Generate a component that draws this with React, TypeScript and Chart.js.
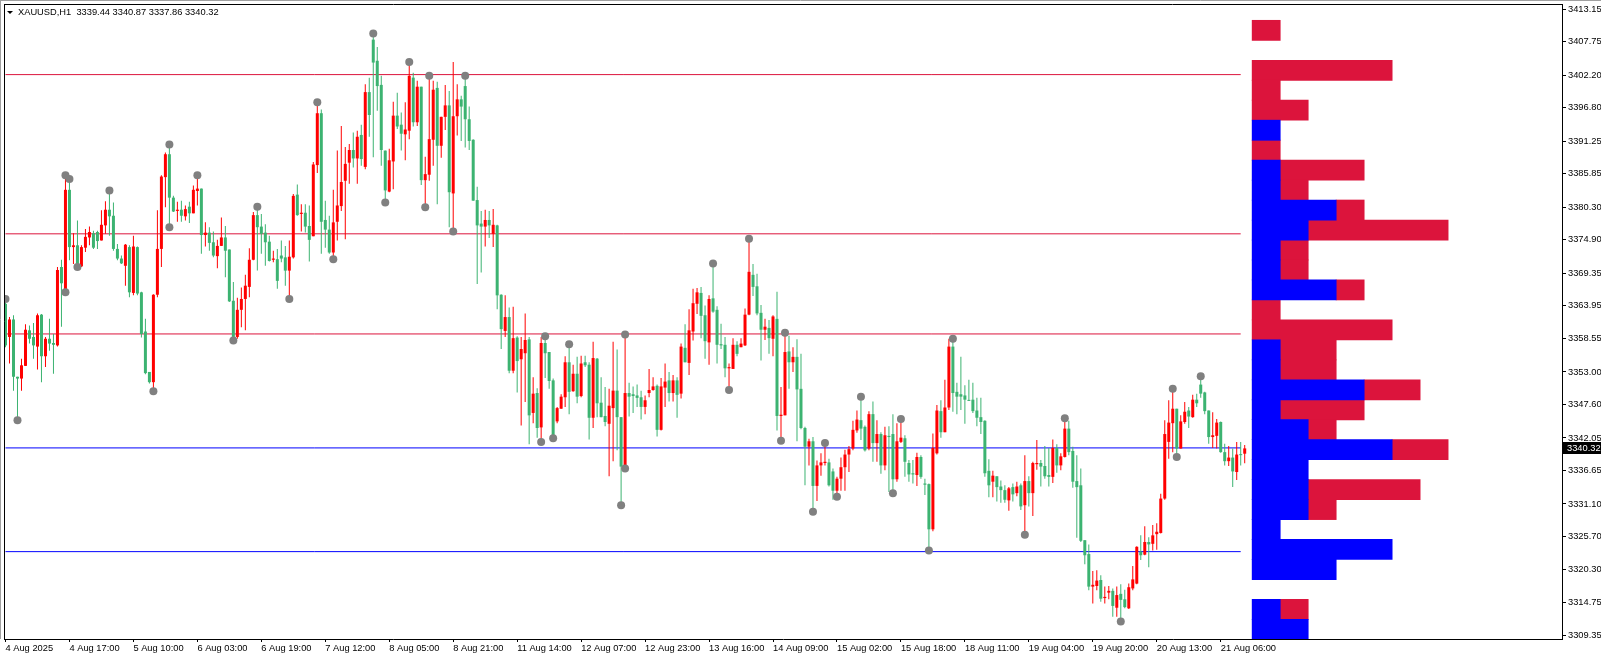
import React, { useEffect, useRef } from "react";
import { Chart, registerables } from "chart.js";

Chart.register(...registerables);

// ---------- header ----------
const headerText = "XAUUSD,H1  3339.44 3340.87 3337.86 3340.32";
const lastPrice = 3340.32;

// ---------- candles (H1, one per bar index 1..311) ----------
const opens = [
  3364.3, 3358.8, 3361.7, 3352.2, 3351.9, 3354.0, 3359.9, 3358.8, 3357.2, 3362.5,
  3355.6, 3358.5, 3357.8, 3357.4, 3370.4, 3366.5, 3383.2, 3373.7, 3374.0, 3370.5,
  3373.6, 3375.3, 3376.0, 3376.2, 3374.8, 3377.3, 3379.9, 3378.9, 3373.4, 3371.8,
  3370.6, 3373.7, 3366.1, 3373.7, 3366.2, 3359.7, 3353.0, 3351.3, 3365.8, 3373.4,
  3385.3, 3389.1, 3381.9, 3379.7, 3379.9, 3378.8, 3380.4, 3379.3, 3383.0, 3383.4,
  3375.7, 3376.1, 3374.5, 3372.2, 3373.9, 3375.3, 3373.3, 3364.8, 3358.8, 3363.3,
  3365.1, 3367.1, 3371.6, 3379.0, 3377.1, 3376.1, 3374.6, 3371.6, 3371.7, 3372.3,
  3372.0, 3369.8, 3372.0, 3382.4, 3379.2, 3379.4, 3377.2, 3375.5, 3387.3, 3395.9,
  3378.2, 3376.6, 3372.8, 3377.9, 3380.5, 3384.7, 3387.7, 3389.8, 3388.4, 3392.3,
  3387.0, 3399.4, 3408.1, 3404.6, 3400.6, 3389.7, 3382.9, 3387.9, 3395.5, 3394.0,
  3392.4, 3393.0, 3401.8, 3394.4, 3400.3, 3384.8, 3385.7, 3391.5, 3400.1, 3390.5,
  3395.3, 3397.2, 3382.6, 3395.4, 3398.2, 3400.4, 3394.9, 3391.5, 3381.5, 3377.6,
  3377.1, 3378.2, 3375.9, 3377.3, 3365.8, 3359.8, 3362.1, 3353.2, 3358.7, 3355.1,
  3356.1, 3358.4, 3346.2, 3349.5, 3343.8, 3357.8, 3356.3, 3351.6, 3344.8, 3346.9,
  3348.8, 3354.6, 3349.8, 3352.7, 3349.0, 3354.6, 3354.2, 3345.4, 3355.2, 3347.9,
  3345.7, 3344.4, 3347.0, 3349.9, 3345.5, 3337.3, 3349.5, 3349.3, 3349.1, 3348.8,
  3347.2, 3349.5, 3350.0, 3350.7, 3343.4, 3350.4, 3351.6, 3349.5, 3351.6, 3349.4,
  3357.0, 3354.5, 3359.7, 3364.3, 3366.1, 3362.4, 3357.9, 3365.2, 3363.3, 3357.6,
  3357.5, 3353.6, 3353.5, 3357.5, 3357.1, 3357.4, 3362.5, 3369.1, 3367.2, 3362.8,
  3360.0, 3360.3, 3358.5, 3361.8, 3345.7, 3345.8, 3356.4, 3354.6, 3355.5, 3350.2,
  3343.7, 3340.6, 3341.5, 3334.1, 3337.5, 3337.9, 3338.0, 3336.5, 3333.3, 3335.3,
  3337.2, 3339.3, 3340.3, 3343.3, 3345.0, 3343.9, 3340.3, 3346.0, 3341.2, 3342.7,
  3337.5, 3342.4, 3342.7, 3335.2, 3341.4, 3342.0, 3337.9, 3336.2, 3335.9, 3338.9,
  3334.5, 3334.4, 3326.9, 3339.5, 3346.5, 3343.0, 3347.1, 3357.2, 3349.7, 3349.3,
  3349.1, 3348.3, 3348.4, 3346.6, 3345.5, 3344.9, 3336.6, 3334.8, 3335.7, 3334.0,
  3333.4, 3331.7, 3333.9, 3332.9, 3334.2, 3330.9, 3334.9, 3332.9, 3337.7, 3337.9,
  3337.4, 3335.9, 3335.6, 3340.4, 3337.5, 3338.9, 3343.6, 3339.9, 3334.9, 3334.2,
  3325.1, 3322.8, 3317.4, 3317.5, 3318.5, 3315.5, 3316.4, 3316.7, 3313.9, 3316.2,
  3315.3, 3313.8, 3317.1, 3317.9, 3323.2, 3322.7, 3324.8, 3324.5, 3326.1, 3326.3,
  3332.0, 3341.4, 3344.5, 3346.9, 3340.3, 3344.7, 3346.6, 3345.5, 3348.4, 3350.9,
  3349.6, 3346.6, 3342.2, 3342.4, 3344.7, 3339.7, 3338.2, 3338.8, 3336.4, 3339.3,
  3339.44,
];

const highs = [
  3365.1, 3362.1, 3362.4, 3352.2, 3355.2, 3360.9, 3360.7, 3361.1, 3362.7, 3362.6,
  3358.8, 3361.8, 3359.3, 3370.4, 3371.6, 3385.6, 3385.0, 3376.0, 3378.1, 3374.0,
  3376.7, 3377.1, 3376.4, 3376.4, 3379.8, 3381.3, 3383.1, 3381.1, 3374.2, 3372.3,
  3374.2, 3374.0, 3375.6, 3373.8, 3366.3, 3361.8, 3353.0, 3365.9, 3379.8, 3385.6,
  3389.4, 3390.7, 3382.2, 3381.2, 3381.4, 3380.6, 3381.2, 3383.9, 3385.6, 3383.4,
  3377.8, 3377.0, 3376.3, 3374.9, 3378.6, 3377.2, 3373.3, 3367.9, 3365.3, 3367.0,
  3369.1, 3373.5, 3379.5, 3380.4, 3379.2, 3377.5, 3375.6, 3373.1, 3373.4, 3374.8,
  3373.9, 3374.8, 3382.5, 3384.1, 3380.8, 3380.8, 3380.6, 3387.8, 3397.7, 3396.5,
  3381.4, 3378.9, 3383.2, 3389.7, 3393.8, 3390.3, 3390.8, 3392.7, 3393.0, 3394.0,
  3400.7, 3401.8, 3409.1, 3406.9, 3402.1, 3389.7, 3390.0, 3397.8, 3399.3, 3396.0,
  3397.7, 3404.4, 3402.6, 3401.3, 3400.3, 3388.7, 3402.1, 3401.3, 3401.1, 3395.3,
  3400.6, 3399.6, 3404.4, 3400.7, 3398.8, 3402.1, 3397.0, 3391.6, 3383.7, 3379.7,
  3379.9, 3379.7, 3380.0, 3377.4, 3365.9, 3365.7, 3363.7, 3363.8, 3358.9, 3358.8,
  3362.7, 3358.8, 3352.1, 3350.3, 3358.8, 3358.9, 3356.3, 3351.9, 3347.2, 3349.3,
  3355.6, 3357.6, 3354.2, 3355.5, 3355.7, 3355.7, 3354.6, 3358.0, 3355.3, 3352.1,
  3350.5, 3350.2, 3358.0, 3356.7, 3345.5, 3359.2, 3351.2, 3350.6, 3350.9, 3349.9,
  3349.1, 3353.5, 3352.1, 3350.9, 3352.0, 3354.4, 3353.0, 3352.5, 3352.1, 3357.7,
  3360.9, 3363.4, 3366.8, 3366.9, 3367.1, 3364.0, 3365.7, 3371.0, 3363.9, 3361.0,
  3358.8, 3354.4, 3358.6, 3358.1, 3358.6, 3363.5, 3375.1, 3370.9, 3369.3, 3364.1,
  3361.8, 3361.6, 3362.4, 3366.3, 3350.5, 3359.5, 3359.0, 3357.1, 3358.4, 3356.0,
  3343.9, 3341.9, 3342.2, 3338.3, 3339.5, 3341.2, 3338.6, 3337.0, 3335.6, 3338.8,
  3340.1, 3340.7, 3344.9, 3346.6, 3348.9, 3344.1, 3346.5, 3348.1, 3345.0, 3343.0,
  3343.9, 3344.0, 3346.0, 3344.5, 3345.2, 3342.5, 3338.4, 3338.4, 3339.6, 3339.2,
  3335.3, 3334.5, 3342.8, 3347.5, 3348.3, 3351.7, 3358.5, 3358.5, 3351.2, 3355.5,
  3350.8, 3351.7, 3351.2, 3348.7, 3348.7, 3345.0, 3338.5, 3336.6, 3335.7, 3335.0,
  3334.2, 3333.9, 3334.5, 3334.8, 3334.5, 3339.2, 3335.7, 3338.1, 3341.7, 3338.4,
  3340.7, 3340.4, 3341.8, 3341.0, 3339.5, 3345.3, 3344.9, 3340.6, 3339.2, 3337.0,
  3325.1, 3324.4, 3320.0, 3320.1, 3319.3, 3317.4, 3317.5, 3317.1, 3317.4, 3317.8,
  3316.9, 3317.9, 3320.8, 3324.1, 3325.9, 3327.4, 3325.6, 3327.6, 3327.9, 3332.8,
  3345.0, 3348.3, 3350.2, 3346.9, 3345.8, 3348.0, 3347.2, 3349.2, 3349.4, 3352.3,
  3349.7, 3346.6, 3346.3, 3345.2, 3344.8, 3341.1, 3340.7, 3340.3, 3341.4, 3341.4,
  3340.87,
];

const lows = [
  3357.1, 3354.4, 3349.9, 3345.0, 3349.9, 3354.0, 3357.7, 3355.2, 3353.4, 3351.3,
  3353.8, 3356.5, 3352.7, 3357.2, 3360.5, 3366.2, 3371.5, 3370.9, 3370.4, 3370.4,
  3372.9, 3374.0, 3373.4, 3373.4, 3374.8, 3375.9, 3375.6, 3373.1, 3371.5, 3370.9,
  3367.3, 3365.4, 3365.7, 3365.7, 3358.7, 3352.6, 3351.1, 3349.8, 3365.4, 3370.4,
  3380.3, 3377.0, 3379.5, 3377.9, 3377.9, 3378.1, 3377.7, 3379.3, 3380.6, 3372.6,
  3373.8, 3373.1, 3372.0, 3370.2, 3373.9, 3368.7, 3364.6, 3358.2, 3358.5, 3360.4,
  3359.9, 3365.4, 3371.5, 3369.8, 3372.6, 3370.6, 3371.3, 3371.2, 3366.8, 3371.2,
  3367.3, 3365.1, 3371.8, 3378.9, 3376.3, 3376.1, 3371.3, 3375.5, 3386.0, 3372.6,
  3373.6, 3372.6, 3371.7, 3374.8, 3379.7, 3375.0, 3384.2, 3386.9, 3384.2, 3387.2,
  3386.6, 3392.0, 3388.6, 3396.3, 3387.2, 3381.1, 3382.8, 3383.3, 3393.3, 3389.7,
  3388.1, 3391.6, 3393.7, 3393.8, 3384.0, 3380.3, 3384.7, 3387.2, 3380.8, 3388.5,
  3393.1, 3377.0, 3376.3, 3392.2, 3391.3, 3390.2, 3389.8, 3381.4, 3367.6, 3369.5,
  3373.8, 3375.2, 3373.7, 3363.4, 3356.8, 3358.8, 3352.8, 3352.8, 3349.6, 3344.1,
  3348.0, 3341.0, 3344.5, 3342.1, 3341.4, 3352.0, 3350.2, 3342.0, 3344.5, 3346.9,
  3347.2, 3346.0, 3349.7, 3347.8, 3348.8, 3353.8, 3341.8, 3343.7, 3345.5, 3345.5,
  3344.0, 3335.7, 3338.2, 3340.0, 3330.9, 3337.0, 3345.6, 3346.2, 3347.2, 3345.1,
  3346.0, 3348.8, 3349.9, 3342.3, 3343.3, 3347.2, 3348.1, 3348.1, 3345.4, 3348.6,
  3354.6, 3352.5, 3358.2, 3362.6, 3358.6, 3355.2, 3354.2, 3362.8, 3354.4, 3356.8,
  3352.1, 3350.0, 3353.5, 3355.6, 3357.1, 3357.3, 3362.4, 3365.6, 3362.4, 3354.9,
  3358.3, 3356.0, 3355.6, 3343.3, 3341.6, 3345.8, 3350.2, 3353.0, 3341.5, 3343.5,
  3334.2, 3337.5, 3329.8, 3331.6, 3335.8, 3337.5, 3334.0, 3331.8, 3332.3, 3333.3,
  3333.3, 3336.4, 3340.0, 3342.9, 3341.7, 3339.8, 3340.0, 3338.1, 3338.1, 3336.1,
  3336.7, 3333.1, 3332.9, 3334.8, 3341.2, 3335.6, 3334.8, 3334.5, 3334.1, 3335.3,
  3332.6, 3323.4, 3326.6, 3339.3, 3342.1, 3343.0, 3346.7, 3346.4, 3346.0, 3346.7,
  3344.4, 3348.2, 3346.2, 3344.0, 3342.7, 3335.6, 3332.2, 3332.2, 3331.5, 3331.3,
  3331.3, 3330.0, 3331.5, 3332.4, 3330.1, 3326.0, 3330.7, 3329.1, 3336.8, 3334.0,
  3335.3, 3334.0, 3334.6, 3336.3, 3336.7, 3338.8, 3339.2, 3333.8, 3325.5, 3324.8,
  3321.1, 3316.8, 3314.6, 3316.8, 3314.9, 3314.6, 3315.3, 3312.4, 3312.4, 3311.6,
  3313.8, 3313.7, 3316.8, 3317.8, 3321.8, 3322.6, 3320.6, 3323.4, 3323.5, 3326.2,
  3331.8, 3338.6, 3339.7, 3338.9, 3340.3, 3344.4, 3343.7, 3345.4, 3347.2, 3348.7,
  3346.0, 3341.1, 3340.4, 3340.3, 3339.6, 3337.5, 3337.4, 3333.9, 3335.1, 3337.5,
  3337.86,
];

const closes = [
  3357.4, 3361.7, 3352.2, 3351.9, 3354.1, 3360.0, 3358.5, 3357.4, 3362.4, 3355.6,
  3358.5, 3357.7, 3357.5, 3369.9, 3367.7, 3383.2, 3373.7, 3374.0, 3370.9, 3373.7,
  3375.4, 3376.2, 3373.6, 3374.7, 3377.4, 3379.9, 3378.8, 3373.4, 3371.8, 3371.0,
  3374.1, 3366.2, 3373.8, 3366.0, 3359.3, 3352.8, 3351.3, 3365.8, 3373.4, 3385.4,
  3389.1, 3381.9, 3379.6, 3379.9, 3378.9, 3380.0, 3379.3, 3383.2, 3383.4, 3375.7,
  3376.1, 3374.4, 3372.3, 3373.9, 3375.3, 3373.1, 3364.7, 3358.8, 3363.3, 3365.1,
  3367.3, 3371.6, 3379.0, 3377.0, 3375.9, 3374.5, 3371.4, 3371.8, 3368.1, 3371.8,
  3369.8, 3372.1, 3382.2, 3379.0, 3379.4, 3377.1, 3374.9, 3387.4, 3395.9, 3377.9,
  3376.6, 3372.8, 3377.8, 3380.6, 3384.5, 3387.5, 3389.8, 3388.4, 3392.0, 3388.3,
  3399.4, 3395.6, 3404.3, 3400.4, 3389.8, 3383.1, 3388.1, 3395.5, 3393.7, 3392.5,
  3393.2, 3402.1, 3394.4, 3400.3, 3384.8, 3385.8, 3391.6, 3399.8, 3390.5, 3395.3,
  3397.2, 3382.8, 3395.4, 3398.2, 3397.0, 3394.9, 3391.3, 3381.4, 3377.3, 3377.1,
  3378.2, 3377.3, 3377.4, 3365.7, 3360.1, 3362.1, 3353.2, 3358.6, 3354.8, 3356.8,
  3358.3, 3345.8, 3349.4, 3343.7, 3357.8, 3356.1, 3351.5, 3342.3, 3347.0, 3348.9,
  3354.6, 3349.7, 3352.7, 3348.9, 3354.4, 3354.1, 3345.4, 3355.3, 3347.8, 3345.5,
  3344.7, 3347.4, 3349.9, 3345.5, 3337.3, 3349.5, 3348.9, 3349.0, 3348.7, 3347.2,
  3348.3, 3350.0, 3350.6, 3343.4, 3350.6, 3351.4, 3349.5, 3351.6, 3349.2, 3357.2,
  3354.6, 3359.9, 3364.4, 3366.2, 3362.3, 3358.1, 3365.1, 3363.0, 3357.5, 3357.4,
  3353.6, 3353.8, 3357.5, 3356.0, 3357.7, 3362.5, 3369.6, 3367.1, 3362.7, 3360.0,
  3360.5, 3358.6, 3362.2, 3345.7, 3345.9, 3356.3, 3354.6, 3355.5, 3350.1, 3343.7,
  3340.6, 3341.5, 3334.1, 3337.5, 3338.0, 3338.1, 3334.2, 3333.3, 3335.3, 3337.2,
  3339.3, 3340.2, 3343.4, 3345.1, 3343.6, 3340.0, 3346.0, 3341.2, 3342.7, 3337.5,
  3342.5, 3342.2, 3335.2, 3341.5, 3342.1, 3338.1, 3336.0, 3336.0, 3338.9, 3335.6,
  3334.3, 3326.9, 3340.4, 3346.6, 3343.0, 3347.1, 3357.2, 3349.5, 3348.9, 3348.9,
  3348.4, 3348.2, 3346.5, 3345.4, 3344.7, 3336.2, 3334.2, 3335.8, 3333.9, 3333.4,
  3331.8, 3333.7, 3332.7, 3334.0, 3330.7, 3334.9, 3332.9, 3337.9, 3337.9, 3337.3,
  3335.7, 3335.6, 3340.4, 3337.5, 3339.0, 3343.6, 3339.7, 3334.8, 3333.9, 3325.0,
  3322.6, 3317.4, 3317.7, 3318.4, 3315.4, 3315.7, 3316.7, 3314.2, 3316.0, 3315.2,
  3314.0, 3317.3, 3318.6, 3324.0, 3322.6, 3324.8, 3324.4, 3325.9, 3326.5, 3332.0,
  3342.7, 3344.6, 3346.9, 3340.3, 3344.8, 3346.4, 3345.6, 3348.4, 3347.8, 3349.4,
  3346.5, 3342.2, 3342.5, 3344.6, 3339.7, 3338.2, 3338.8, 3336.5, 3339.3, 3339.2,
  3340.32,
];

// ---------- swing dots (bar index, price) ----------
const dotIndex = [
  1, 4, 16, 16, 17, 19, 27, 38, 42, 42, 49, 58, 64, 72, 79, 83, 93, 96, 102, 106,
  107, 113, 116, 135, 136, 138, 142, 155, 156, 156, 178, 182, 187, 195, 196, 203, 206, 209, 215, 223,
  225, 232, 238, 256, 266, 280, 293, 294, 300,
];
const dotPrice = [
  3365.1, 3345.0, 3385.6, 3366.2, 3385.0, 3370.4, 3383.1, 3349.8, 3390.7, 3377.0,
  3385.6, 3358.2, 3380.4, 3365.1, 3397.7, 3371.7, 3409.1, 3381.1, 3404.4, 3380.3,
  3402.1, 3376.3, 3402.1, 3341.4, 3358.9, 3342.0, 3357.6, 3330.9, 3359.2, 3337.0,
  3371.0, 3350.0, 3375.1, 3341.6, 3359.5, 3329.8, 3341.2, 3332.3, 3348.9, 3332.9,
  3345.2, 3323.4, 3358.5, 3326.0, 3345.3, 3311.6, 3350.2, 3338.9, 3352.3,
];

// ---------- horizontal levels ----------
const redLevels = [3402.3, 3375.9, 3359.3];
const blueLevels = [3340.4, 3323.2];
const levelFrom = 1;
const levelTo = 310;

// ---------- volume profile (rows, in units) ----------
const profilePrice = [
  3409.64, 3406.33, 3403.02, 3399.71, 3396.40, 3393.08, 3389.77, 3386.46, 3383.15, 3379.84,
  3376.53, 3373.22, 3369.91, 3366.60, 3363.29, 3359.98, 3356.66, 3353.35, 3350.04, 3346.73,
  3343.42, 3340.11, 3336.80, 3333.49, 3330.18, 3326.87, 3323.56, 3320.24, 3316.93, 3313.62,
  3310.31,
];
const profileBlue = [0, 0, 0, 0, 0, 1, 0, 1, 1, 3, 2, 1, 1, 3, 0, 0, 1, 1, 4, 1, 2, 5, 2, 2, 2, 1, 5, 3, 0, 1, 2];
const profileRed = [1, 0, 5, 1, 2, 0, 1, 3, 1, 1, 5, 1, 1, 1, 1, 5, 2, 2, 2, 3, 1, 2, 0, 4, 1, 0, 0, 0, 0, 1, 0];

// ---------- axes ----------
const priceTicks = [
  3413.15, 3407.75, 3402.2, 3396.8, 3391.25, 3385.85, 3380.3, 3374.9, 3369.35, 3363.95,
  3358.55, 3353.0, 3347.6, 3342.05, 3336.65, 3331.1, 3325.7, 3320.3, 3314.75, 3309.35,
];
const timeTickIndex = [1, 17, 33, 49, 65, 81, 97, 113, 129, 145, 161, 177, 193, 209, 225, 241, 257, 273, 289, 305];
const timeLabels = [
  "4 Aug 2025", "4 Aug 17:00", "5 Aug 10:00", "6 Aug 03:00", "6 Aug 19:00",
  "7 Aug 12:00", "8 Aug 05:00", "8 Aug 21:00", "11 Aug 14:00", "12 Aug 07:00",
  "12 Aug 23:00", "13 Aug 16:00", "14 Aug 09:00", "15 Aug 02:00", "15 Aug 18:00",
  "18 Aug 11:00", "19 Aug 04:00", "19 Aug 20:00", "20 Aug 13:00", "21 Aug 06:00",
];

// layout constants (not data)
const X_MIN = 0.625;
const X_MAX = 390.375;
const Y_MIN = 3308.714;
const Y_MAX = 3414.011;
const PROFILE_X0 = 312.875;
const PROFILE_UNIT = 7;

const BULL = "#ff0000";
const BEAR = "#3cb371";
const PROF_RED = "#dc143c";
const PROF_BLUE = "#0000ff";
const FONT_FAMILY = '"Liberation Sans", Arial, sans-serif';
const FONT_SIZE = 9.3;

export default function App() {
  const canvasRef = useRef<HTMLCanvasElement | null>(null);

  useEffect(() => {
    document.body.style.margin = "0";
    const canvas = canvasRef.current;
    if (!canvas) return;

    const colors = opens.map((o, i) => (closes[i] >= o ? BULL : BEAR));
    const font = { family: FONT_FAMILY, size: FONT_SIZE };

    const levelSets = [
      ...redLevels.map((p) => ({ p, c: PROF_RED })),
      ...blueLevels.map((p) => ({ p, c: PROF_BLUE })),
    ].map(({ p, c }) => ({
      type: "line",
      data: [
        { x: levelFrom, y: p },
        { x: levelTo, y: p },
      ],
      borderColor: c,
      borderWidth: 1,
      pointRadius: 0,
      fill: false,
      order: 3,
    }));

    const blueData = profilePrice
      .map((y, i) => (profileBlue[i] > 0 ? { y, x: [PROFILE_X0, PROFILE_X0 + PROFILE_UNIT * profileBlue[i]] } : null))
      .filter(Boolean);
    const redData = profilePrice
      .map((y, i) =>
        profileRed[i] > 0
          ? {
              y,
              x: [
                PROFILE_X0 + PROFILE_UNIT * profileBlue[i],
                PROFILE_X0 + PROFILE_UNIT * (profileBlue[i] + profileRed[i]),
              ],
            }
          : null
      )
      .filter(Boolean);

    const framePlugin = {
      id: "mt4Frame",
      afterDraw(chart: any) {
        const ctx = chart.ctx;
        const area = chart.chartArea;
        const ys = chart.scales.y;
        ctx.save();
        ctx.strokeStyle = "#a0a0a0";
        ctx.lineWidth = 1;
        ctx.beginPath();
        ctx.moveTo(0, 0.5);
        ctx.lineTo(chart.width, 0.5);
        ctx.moveTo(0.5, 0);
        ctx.lineTo(0.5, area.bottom);
        ctx.stroke();
        ctx.strokeStyle = "#000";
        ctx.beginPath();
        ctx.moveTo(area.left + 0.5, area.top);
        ctx.lineTo(area.left + 0.5, area.bottom);
        ctx.moveTo(area.left, area.top + 0.5);
        ctx.lineTo(area.right, area.top + 0.5);
        ctx.stroke();
        const py = Math.round(ys.getPixelForValue(lastPrice));
        ctx.fillStyle = "#000";
        ctx.fillRect(ys.left + 1, py - 6, chart.width - ys.left - 1, 12);
        ctx.fillStyle = "#fff";
        ctx.font = `${FONT_SIZE}px ${FONT_FAMILY}`;
        ctx.textBaseline = "middle";
        ctx.textAlign = "left";
        ctx.fillText(lastPrice.toFixed(2), ys.left + 5, py + 0.5);
        ctx.restore();
      },
    };

    const chart = new Chart(canvas, {
      type: "bar",
      data: {
        datasets: [
          {
            type: "scatter",
            label: "swings",
            data: dotIndex.map((x, i) => ({ x, y: dotPrice[i] })),
            pointRadius: 4,
            pointBackgroundColor: "#808080",
            pointBorderColor: "#808080",
            pointBorderWidth: 0,
            showLine: false,
            order: 0,
          },
          {
            type: "bar",
            label: "bodies",
            data: opens.map((o, i) => ({ x: i + 1, y: [o, closes[i]] })),
            backgroundColor: colors,
            barThickness: 3,
            grouped: false,
            minBarLength: 1,
            inflateAmount: 0,
            borderWidth: 0,
            order: 1,
          },
          {
            type: "bar",
            label: "wicks",
            data: lows.map((l, i) => ({ x: i + 1, y: [l, highs[i]] })),
            backgroundColor: colors,
            barThickness: 1,
            grouped: false,
            minBarLength: 1,
            inflateAmount: 0,
            borderWidth: 0,
            order: 2,
          },
          ...levelSets,
          {
            type: "bar",
            label: "profileBlue",
            indexAxis: "y",
            data: blueData,
            backgroundColor: PROF_BLUE,
            barThickness: 20,
            grouped: false,
            inflateAmount: 0.4,
            borderWidth: 0,
            order: 4,
          },
          {
            type: "bar",
            label: "profileRed",
            indexAxis: "y",
            data: redData,
            backgroundColor: PROF_RED,
            barThickness: 20,
            grouped: false,
            inflateAmount: 0.4,
            borderWidth: 0,
            order: 4,
          },
        ] as any,
      },
      options: {
        responsive: false,
        animation: false,
        devicePixelRatio: 1,
        events: [],
        layout: { padding: { left: 3, top: 3, right: 0, bottom: 0 } },
        plugins: {
          legend: { display: false },
          tooltip: { enabled: false },
          title: { display: false },
        },
        scales: {
          x: {
            type: "linear",
            position: "bottom",
            min: X_MIN,
            max: X_MAX,
            offset: false,
            grid: {
              display: true,
              drawOnChartArea: false,
              drawTicks: true,
              tickLength: 3,
              color: "#000",
              offset: false,
            },
            border: { display: true, color: "#000", width: 1 },
            ticks: {
              autoSkip: false,
              maxRotation: 0,
              minRotation: 0,
              align: "start",
              padding: 1,
              color: "#000",
              font,
              callback: (_v: any, i: number) => timeLabels[i] ?? "",
            },
            afterBuildTicks: (s: any) => {
              s.ticks = timeTickIndex.map((v) => ({ value: v }));
            },
            afterFit: (s: any) => {
              s.height = 21;
              s.paddingLeft = 0;
              s.paddingRight = 0;
            },
          },
          y: {
            type: "linear",
            position: "right",
            min: Y_MIN,
            max: Y_MAX,
            offset: false,
            grid: {
              display: true,
              drawOnChartArea: false,
              drawTicks: true,
              tickLength: 4,
              color: "#000",
              offset: false,
            },
            border: { display: true, color: "#000", width: 1 },
            ticks: {
              autoSkip: false,
              padding: 2,
              color: "#000",
              font,
              callback: (v: any) => Number(v).toFixed(2),
            },
            afterBuildTicks: (s: any) => {
              s.ticks = priceTicks.map((v) => ({ value: v }));
            },
            afterFit: (s: any) => {
              s.width = 39;
              s.paddingTop = 0;
              s.paddingBottom = 0;
            },
          },
        },
      } as any,
      plugins: [framePlugin],
    });

    return () => chart.destroy();
  }, []);

  return (
    <div style={{ position: "relative", width: 1601, height: 660, background: "#fff", overflow: "hidden" }}>
      <style>{`body{margin:0;}`}</style>
      <canvas ref={canvasRef} width={1601} height={660} style={{ display: "block", width: 1601, height: 660 }} />
      <div
        style={{
          position: "absolute",
          left: 7,
          top: 11,
          width: 0,
          height: 0,
          borderLeft: "3px solid transparent",
          borderRight: "3px solid transparent",
          borderTop: "3px solid #000",
        }}
      />
      <div
        style={{
          position: "absolute",
          left: 18,
          top: 6,
          fontFamily: FONT_FAMILY,
          fontSize: `${FONT_SIZE}px`,
          lineHeight: "12px",
          color: "#000",
          whiteSpace: "pre",
        }}
      >
        {headerText}
      </div>
    </div>
  );
}
